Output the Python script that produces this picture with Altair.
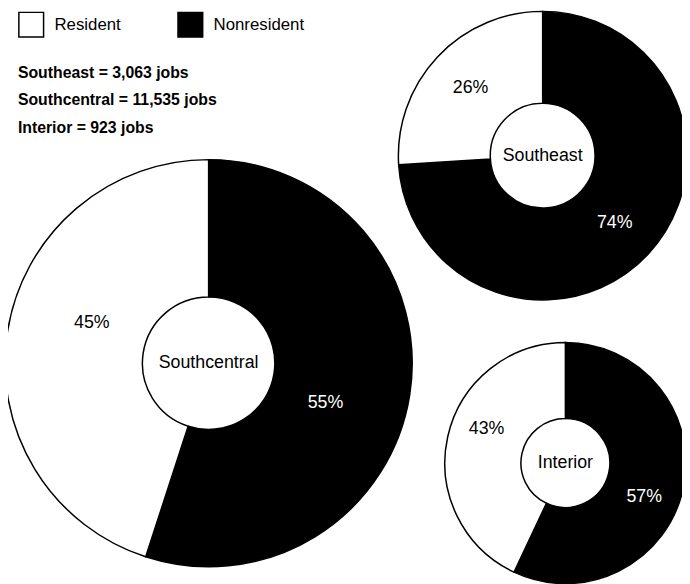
import altair as alt
import math
import pandas as pd

# ---- data ----
regions = ["Southcentral", "Southeast", "Interior"]
jobs = [11535, 3063, 923]
resident_pct = [45, 26, 43]
nonresident_pct = [55, 74, 57]
job_line_order = ["Southeast", "Southcentral", "Interior"]

rows = []
for reg, r, n in zip(regions, resident_pct, nonresident_pct):
    rows.append({"region": reg, "type": "Nonresident", "pct": n, "ord": 0, "label": f"{n}%"})
    rows.append({"region": reg, "type": "Resident", "pct": r, "ord": 1, "label": f"{r}%"})
df = pd.DataFrame(rows)

jobs_by_region = dict(zip(regions, jobs))
lines_df = pd.DataFrame({
    "line": [f"{reg} = {jobs_by_region[reg]:,} jobs" for reg in job_line_order],
    "idx": list(range(len(job_line_order))),
})

# ---- layout (chart coordinates) ----
layout = {
    "Southcentral": dict(cx=203, cy=356, r=206, r2=67, lr=125, rot=10),
    "Southeast": dict(cx=541, cy=146, r=146, r2=53, lr=100, rot=0),
    "Interior": dict(cx=564, cy=457, r=122, r2=45, lr=87, rot=11),
}
FONT = "Liberation Sans"

fill = alt.Fill(
    "type:N",
    scale=alt.Scale(domain=["Resident", "Nonresident"], range=["white", "black"]),
    legend=alt.Legend(
        title=None, orient="none", legendX=10, legendY=0, direction="horizontal",
        symbolType="square", symbolSize=625, symbolStrokeColor="black",
        symbolStrokeWidth=1.5, labelFontSize=17, labelFont=FONT,
        labelOffset=10, columnPadding=54, labelColor="black",
    ),
)

layers = []
for reg in regions:
    L = layout[reg]
    common = dict(order=alt.Order("ord:Q"), x=alt.value(L["cx"]), y=alt.value(L["cy"]))
    src = alt.Chart(df).transform_filter(alt.datum.region == reg)
    arc = src.mark_arc(radius=L["r"], radius2=L["r2"], stroke="black", strokeWidth=1.5).encode(
        theta=alt.Theta("pct:Q", stack=True), fill=fill, **common
    )
    a0 = math.radians(L["rot"])
    txt = src.mark_text(radius=L["lr"], font=FONT, fontSize=18).encode(
        theta=alt.Theta("pct:Q", stack=True, scale=alt.Scale(range=[a0, a0 + 2 * math.pi])),
        text="label:N",
        color=alt.condition(alt.datum.type == "Nonresident", alt.value("white"), alt.value("black")),
        **common,
    )
    center = alt.Chart(pd.DataFrame({"region": [reg]})).mark_text(
        font=FONT, fontSize=18, color="black"
    ).encode(text="region:N", x=alt.value(L["cx"]), y=alt.value(L["cy"]))
    layers += [arc, txt, center]

job_text = alt.Chart(lines_df).mark_text(
    font=FONT, fontSize=16, fontWeight="bold", align="left", baseline="middle", color="black"
).encode(
    text="line:N",
    x=alt.value(10),
    y=alt.Y("idx:Q", axis=None, scale=alt.Scale(domain=[0, 2], range=[62, 118])),
)

chart = alt.layer(*layers, job_text).resolve_scale(theta="independent").properties(
    width=682, height=576, padding=0, autosize=alt.AutoSizeParams(type="none"),
    background="white",
).configure_view(stroke=None)

chart.save("out.html", embed_options={"renderer": "svg", "actions": False})
